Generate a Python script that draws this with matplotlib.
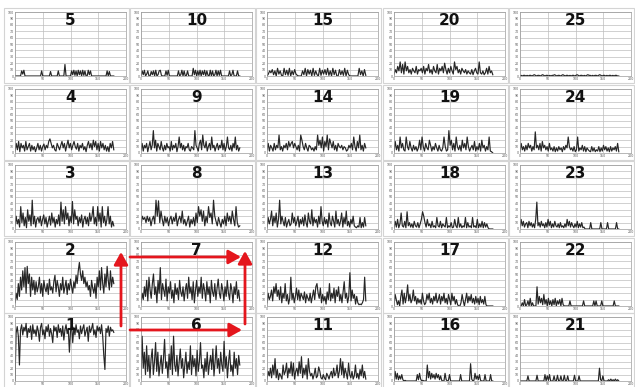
import numpy as np
import matplotlib
matplotlib.use("Agg")
import matplotlib.pyplot as plt
from matplotlib.patches import Rectangle, FancyArrowPatch

# values (y in 0..100), panel n -> sN
s1 = [0, 75, 85, 70, 25, 80, 88, 72, 84, 78, 90, 68, 82, 76, 86, 65, 88, 74, 80, 70, 86, 78, 62, 84, 90, 72, 80, 66, 85, 77,
      88, 70, 82, 74, 60, 86, 78, 84, 68, 88, 76, 82, 70, 86, 64, 80, 88, 74, 82, 45, 78, 86, 60, 84, 72, 88, 76, 80, 66, 86,
      74, 82, 88, 70, 78, 84, 62, 86, 76, 82, 90, 72, 80, 68, 86, 78, 84, 74, 88, 70, 40, 18, 82, 76, 86, 70, 84, 78, 80, 76]
s2 = [5, 20, 10, 35, 15, 45, 25, 55, 30, 60, 20, 62, 35, 50, 15, 45, 25, 40, 18, 38, 22, 30, 45, 20, 35, 15, 40, 28, 22, 35,
      18, 42, 25, 30, 20, 38, 48, 22, 40, 30, 15, 35, 25, 45, 20, 30, 40, 18, 35, 25, 42, 30, 20, 38, 28, 48, 35, 55, 68, 50,
      40, 55, 35, 45, 30, 38, 25, 32, 15, 40, 28, 20, 35, 12, 45, 30, 55, 25, 60, 35, 20, 50, 30, 62, 40, 25, 55, 30, 45, 35]
s3 = [5, 20, 8, 15, 3, 35, 10, 25, 5, 18, 2, 30, 12, 22, 5, 45, 8, 20, 3, 15, 18, 10, 20, 5, 15, 22, 8, 18, 3, 12,
      20, 6, 25, 10, 18, 3, 15, 8, 22, 5, 42, 12, 30, 8, 35, 15, 25, 5, 20, 10, 43, 8, 30, 15, 20, 5, 18, 10, 22, 3,
      15, 20, 8, 18, 5, 25, 12, 20, 35, 8, 18, 5, 35, 12, 25, 3, 35, 10, 20, 5, 15, 35, 8, 20, 3, 12, 5]
s4 = [3, 15, 5, 18, 2, 15, 8, 12, 3, 18, 5, 10, 15, 3, 12, 5, 10, 2, 8, 15, 5, 12, 3, 10, 14, 5, 12, 8, 18, 22,
      15, 8, 12, 5, 3, 15, 10, 5, 12, 18, 8, 15, 3, 12, 20, 8, 15, 5, 12, 18, 10, 6, 15, 3, 12, 8, 15, 5, 10, 2,
      12, 18, 8, 15, 5, 20, 10, 18, 5, 15, 3, 18, 8, 15, 5, 12, 3, 10, 2, 15, 8, 18, 5]
s5 = [0, 0, 0, 0, 0, 0, 8, 3, 9, 0, 0, 0, 0, 0, 0, 0, 0, 0, 0, 0, 0, 0, 0, 0, 8, 0, 0, 0, 0, 0,
      0, 0, 7, 0, 0, 0, 0, 0, 0, 8, 0, 0, 0, 0, 0, 18, 0, 0, 0, 0, 0, 8, 2, 9, 1, 8, 0, 9, 2, 8,
      0, 9, 1, 8, 0, 0, 9, 2, 8, 0, 0, 0, 0, 0, 0, 0, 0, 0, 0, 0, 0, 0, 0, 8, 0, 7, 0, 0, 0, 0]
s6 = [5, 70, 20, 45, 10, 55, 15, 40, 5, 35, 50, 10, 30, 60, 15, 45, 8, 25, 40, 12, 35, 65, 20, 30, 5, 42, 18, 55, 10, 70,
      25, 15, 40, 8, 30, 50, 20, 35, 5, 25, 45, 12, 30, 18, 55, 10, 40, 22, 35, 8, 48, 15, 30, 60, 20, 25, 5, 35, 15, 45,
      10, 28, 40, 18, 50, 8, 30, 55, 20, 35, 12, 45, 25, 15, 62, 20, 38, 5, 30, 48, 15, 25, 8, 45, 20, 35, 10, 40, 25]
s7 = [5, 20, 10, 30, 15, 40, 8, 45, 25, 12, 35, 50, 18, 30, 5, 40, 20, 60, 10, 35, 25, 15, 42, 8, 30, 20, 38, 12, 25, 5,
      35, 18, 28, 10, 40, 22, 15, 30, 8, 25, 35, 12, 45, 20, 30, 10, 38, 5, 25, 40, 15, 30, 20, 45, 12, 35, 25, 8, 38, 18,
      30, 5, 40, 22, 15, 35, 10, 28, 42, 20, 12, 35, 25, 8, 30, 15, 40, 20, 10, 35, 25, 5, 30, 18, 38, 12, 25, 8]
s8 = [5, 20, 15, 18, 10, 20, 12, 18, 5, 15, 20, 8, 45, 20, 44, 10, 28, 15, 5, 20, 10, 18, 5, 15, 20, 8, 18, 12, 25, 5,
      15, 20, 10, 28, 8, 15, 5, 12, 20, 3, 15, 8, 18, 5, 25, 10, 35, 20, 30, 12, 28, 5, 20, 10, 35, 18, 25, 8, 45, 20,
      12, 5, 18, 10, 3, 15, 8, 20, 5, 25, 12, 20, 8, 28, 15, 5, 35, 10, 3, 5]
s9 = [5, 15, 3, 12, 8, 15, 2, 10, 18, 5, 12, 35, 8, 20, 3, 15, 10, 5, 18, 8, 3, 12, 5, 15, 8, 10, 3, 18, 5, 12,
      8, 15, 2, 10, 25, 8, 15, 5, 12, 3, 10, 8, 15, 5, 3, 10, 8, 5, 35, 12, 8, 3, 15, 20, 5, 28, 12, 8, 18, 3,
      10, 15, 5, 25, 8, 12, 3, 10, 15, 5, 12, 8, 20, 5, 15, 3, 10, 25, 8, 5, 12, 3, 15, 8, 25, 5, 12, 3, 8]
s10 = [0, 8, 2, 9, 0, 3, 8, 0, 0, 7, 2, 8, 0, 9, 0, 2, 8, 9, 1, 0, 0, 0, 8, 1, 9, 0, 0, 0, 0, 0,
       0, 0, 0, 8, 0, 2, 9, 0, 8, 0, 1, 8, 0, 0, 0, 0, 12, 2, 9, 0, 8, 1, 9, 0, 8, 2, 9, 0, 8, 1,
       0, 9, 0, 8, 0, 2, 9, 0, 8, 1, 9, 0, 0, 0, 0, 0, 0, 0, 8, 0, 2, 9, 0, 0, 0, 8, 0, 0]
s11 = [3, 15, 8, 20, 5, 25, 10, 35, 5, 18, 2, 12, 8, 3, 25, 10, 15, 28, 5, 20, 12, 30, 8, 28, 3, 15, 20, 8, 30, 12,
       38, 5, 20, 10, 25, 3, 35, 15, 8, 12, 3, 10, 20, 5, 8, 22, 15, 5, 3, 10, 5, 2, 12, 8, 3, 10, 15, 5, 20, 8,
       12, 25, 5, 15, 35, 10, 30, 5, 20, 12, 3, 28, 10, 5, 15, 3, 8, 25, 5, 12, 3, 18, 8, 25, 5, 15, 3]
s12 = [5, 20, 10, 15, 25, 8, 30, 20, 35, 15, 25, 10, 30, 5, 20, 12, 35, 8, 18, 3, 12, 45, 10, 20, 5, 15, 28, 10, 25, 8,
       20, 15, 10, 22, 5, 18, 12, 8, 20, 5, 15, 25, 10, 30, 35, 20, 12, 28, 5, 18, 8, 15, 3, 22, 10, 35, 8, 20, 12, 28,
       5, 25, 15, 30, 8, 18, 5, 22, 38, 12, 20, 5, 15, 52, 8, 25, 12, 18, 3, 15, 5, 2, 3, 2, 5, 10, 45, 8]
s13 = [3, 18, 8, 15, 28, 5, 20, 10, 25, 3, 15, 45, 8, 20, 12, 5, 18, 3, 10, 15, 5, 8, 25, 10, 18, 5, 12, 20, 3, 15,
       8, 18, 5, 22, 10, 3, 25, 12, 8, 30, 5, 18, 10, 15, 3, 20, 8, 35, 12, 5, 18, 8, 15, 3, 25, 10, 5, 20, 12, 3,
       28, 8, 15, 5, 12, 25, 3, 18, 8, 28, 5, 12, 3, 15, 8, 20, 5, 3, 2, 5, 3, 18, 2, 10, 3, 18, 5]
s14 = [5, 15, 3, 12, 8, 3, 15, 5, 12, 8, 28, 5, 10, 3, 12, 8, 15, 5, 18, 10, 15, 18, 8, 15, 10, 5, 12, 3, 28, 20,
       10, 5, 15, 8, 3, 12, 10, 5, 8, 3, 10, 5, 28, 12, 20, 8, 25, 3, 18, 10, 28, 5, 22, 15, 8, 18, 5, 12, 3, 15,
       10, 8, 12, 5, 10, 8, 3, 5, 12, 8, 15, 5, 25, 10, 3, 18, 8, 28, 5, 12, 3, 15, 8]
s15 = [0, 3, 8, 5, 10, 2, 8, 0, 12, 3, 8, 1, 0, 12, 2, 9, 1, 12, 0, 8, 2, 10, 3, 1, 0, 0, 0, 8, 2, 12,
       0, 10, 3, 9, 0, 12, 1, 8, 2, 0, 12, 1, 9, 3, 10, 2, 12, 1, 8, 0, 12, 2, 9, 0, 0, 10, 2, 8, 1, 12,
       0, 9, 2, 0, 0, 0, 0, 0, 0, 0, 12, 2, 8, 0, 10, 1]
s16 = [0, 15, 3, 12, 2, 8, 3, 10, 2, 0, 1, 0, 0, 0, 0, 0, 0, 0, 0, 0, 0, 10, 2, 12, 3, 0, 1, 0, 0, 0,
       25, 5, 15, 3, 12, 5, 10, 3, 12, 5, 10, 2, 8, 1, 0, 0, 12, 2, 0, 1, 10, 0, 0, 0, 0, 0, 0, 0, 0, 0,
       10, 0, 0, 0, 0, 0, 0, 0, 0, 27, 3, 0, 1, 12, 3, 8, 2, 10, 1, 0, 0, 0, 10, 0, 0, 0, 0, 10, 0, 0]
s17 = [0, 18, 10, 2, 8, 0, 15, 25, 3, 20, 5, 15, 33, 8, 18, 5, 10, 25, 8, 15, 3, 12, 5, 10, 3, 20, 8, 2, 5, 18,
       10, 20, 5, 12, 3, 15, 8, 20, 5, 10, 18, 3, 15, 8, 20, 5, 12, 3, 18, 10, 2, 20, 8, 15, 3, 10, 2, 0, 0, 5,
       18, 8, 0, 10, 20, 5, 15, 8, 18, 5, 12, 3, 15, 5, 12, 2, 15, 5, 10, 3, 15, 2, 0, 0, 0, 0, 0, 0]
s18 = [2, 12, 3, 15, 2, 8, 25, 5, 3, 12, 2, 27, 5, 10, 3, 8, 2, 12, 5, 3, 10, 2, 8, 15, 27, 20, 10, 3, 15, 5,
       8, 2, 12, 3, 5, 2, 18, 5, 3, 12, 2, 8, 5, 3, 18, 2, 5, 3, 10, 2, 3, 15, 5, 2, 18, 3, 8, 2, 5, 3,
       18, 2, 10, 3, 5, 2, 18, 3, 5, 2, 15, 2, 8, 3, 12, 2, 10, 3, 8, 2, 0, 0, 0, 0]
s19 = [3, 18, 5, 12, 3, 25, 8, 15, 5, 3, 25, 10, 5, 18, 8, 3, 12, 5, 10, 3, 8, 20, 5, 25, 10, 3, 15, 8, 5, 20,
       12, 3, 10, 5, 15, 8, 3, 12, 5, 3, 8, 25, 10, 3, 5, 35, 12, 20, 5, 15, 3, 25, 10, 5, 12, 3, 20, 8, 15, 5,
       25, 10, 3, 8, 12, 5, 18, 3, 10, 5, 15, 3, 20, 8, 12, 3, 10, 5, 25, 3, 2, 0]
s20 = [3, 10, 5, 15, 8, 22, 5, 18, 3, 22, 8, 15, 5, 10, 3, 12, 8, 5, 15, 3, 10, 8, 12, 5, 15, 3, 12, 8, 18, 5,
       10, 3, 15, 8, 5, 18, 3, 12, 8, 15, 5, 20, 10, 3, 12, 5, 15, 8, 3, 22, 10, 15, 5, 10, 3, 12, 8, 5, 10, 3,
       8, 5, 3, 10, 2, 8, 12, 5, 3, 22, 5, 3, 8, 2, 5, 12, 3, 15, 5, 8, 2]
s21 = [0, 0, 0, 0, 0, 0, 0, 8, 0, 0, 0, 0, 0, 0, 0, 9, 0, 0, 0, 0, 0, 0, 10, 0, 8, 1, 10, 0, 0, 0,
       8, 0, 0, 9, 0, 0, 8, 0, 0, 9, 0, 0, 8, 0, 0, 0, 0, 0, 9, 0, 0, 0, 8, 0, 0, 0, 0, 0, 0, 0,
       0, 0, 0, 0, 0, 0, 0, 0, 0, 0, 20, 2, 0, 8, 0, 0, 0, 0, 2, 0, 3, 0, 2, 0, 3, 0, 2, 0]
s22 = [0, 0, 5, 0, 10, 0, 2, 8, 0, 12, 0, 5, 0, 0, 0, 30, 3, 15, 5, 12, 2, 18, 3, 10, 0, 12, 2, 8, 0, 10,
       2, 12, 0, 8, 3, 10, 0, 12, 2, 0, 0, 0, 0, 0, 8, 0, 0, 0, 0, 0, 0, 0, 0, 0, 0, 0, 8, 0, 0, 0,
       0, 0, 0, 0, 0, 8, 0, 8, 0, 0, 0, 0, 8, 0, 0, 0, 0, 0, 0, 0, 0, 0, 0, 8, 0, 0, 0, 0]
s23 = [3, 15, 5, 12, 3, 8, 10, 2, 12, 5, 10, 3, 8, 2, 15, 42, 5, 10, 3, 12, 5, 8, 2, 10, 3, 15, 5, 12, 2, 8,
       3, 12, 5, 3, 8, 2, 10, 3, 5, 2, 8, 3, 15, 5, 12, 3, 10, 5, 2, 8, 3, 12, 2, 8, 3, 10, 2, 3, 0, 0,
       0, 0, 0, 10, 0, 0, 0, 0, 0, 0, 0, 0, 10, 0, 0, 0, 0, 0, 10, 0, 0, 0, 0, 0, 0, 0, 10, 0, 0]
s24 = [3, 15, 5, 10, 3, 12, 5, 15, 8, 12, 3, 10, 5, 33, 8, 12, 5, 15, 3, 18, 8, 12, 5, 10, 3, 15, 5, 8, 3, 10,
       2, 8, 3, 10, 5, 8, 2, 10, 5, 12, 8, 25, 10, 5, 8, 3, 10, 2, 5, 25, 3, 8, 5, 12, 3, 10, 2, 8, 5, 3,
       2, 10, 3, 8, 2, 5, 3, 10, 2, 8, 3, 12, 5, 10, 3, 8, 2, 10, 3, 8, 5, 10, 3, 15, 2]
s25 = [0, 1, 0, 1, 1, 0, 1, 0, 1, 1, 0, 1, 2, 1, 0, 1, 1, 0, 1, 2, 1, 0, 1, 1, 0, 1, 0, 1, 1, 2,
       1, 0, 1, 1, 0, 1, 2, 1, 0, 1, 1, 0, 1, 0, 1, 1, 0, 1, 2, 1, 0, 1, 1, 0, 1, 0, 1, 2, 1, 1,
       0, 1, 0, 1, 1, 0, 1, 2, 1, 0, 1, 1, 0, 1, 0, 1, 1, 0, 1, 0, 1, 1, 0, 0]

series = [s1, s2, s3, s4, s5, s6, s7, s8, s9, s10, s11, s12, s13, s14, s15,
          s16, s17, s18, s19, s20, s21, s22, s23, s24, s25]
labels = [str(i + 1) for i in range(25)]
x_end = 178  # last sample position on the 0..200 axis

W, H = 635, 387
fig = plt.figure(figsize=(W / 100, H / 100), dpi=100)
fig.patch.set_facecolor('white')

def px(x, y):
    # pixel coords (top-left origin) -> figure fraction
    return x / W, 1 - y / H

col_left = [15, 141, 267, 394, 520]
row_top = [12, 89, 165, 242, 317]
pw, ph = 111, 64

for n, vals in enumerate(series):
    c = n // 5
    r = 4 - n % 5
    L, T = col_left[c], row_top[r]
    # light border around each chart cell
    fig.add_artist(Rectangle(px(L - 11, T + 71), 125 / W, 75 / H, transform=fig.transFigure,
                             fill=False, edgecolor='#d4d4d4', lw=0.8))
    ax = fig.add_axes([L / W, 1 - (T + ph) / H, pw / W, ph / H])
    xs = np.linspace(0, x_end, len(vals))
    ax.plot(xs, vals, color='#262626', lw=0.85)
    ax.set_xlim(0, 200)
    ax.set_ylim(0, 100)
    ax.set_xticks([0, 50, 100, 150, 200])
    ax.set_yticks(range(0, 101, 10))
    ax.grid(True, color='#bdbdbd', lw=0.5)
    ax.set_axisbelow(True)
    ax.tick_params(length=0, labelsize=2.3, pad=1, colors='#555555')
    for sp in ax.spines.values():
        sp.set_color('#9a9a9a')
        sp.set_linewidth(0.5)
    ax.text(0.5, 0.86, labels[n], transform=ax.transAxes, ha='center', va='center',
            fontsize=11, fontweight='bold', color='#111111')

# red arrows showing the reading order
red = '#e4161d'
arrows = [((121, 326), (121, 252)), ((130, 257), (241, 257)),
          ((130, 330), (242, 330)), ((245, 324), (245, 251))]
for a, b in arrows:
    fig.add_artist(FancyArrowPatch(px(*a), px(*b), transform=fig.transFigure,
                                   arrowstyle='-|>,head_length=0.5,head_width=0.28',
                                   mutation_scale=15, color=red, lw=2, shrinkA=0, shrinkB=0))

fig.savefig('out.png', dpi=100)
